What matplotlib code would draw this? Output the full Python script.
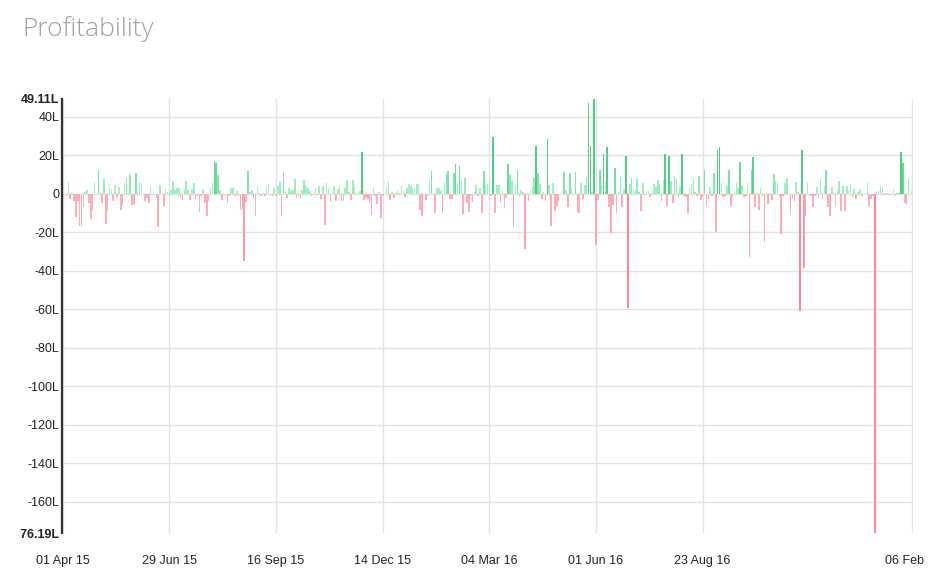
import numpy as np
import matplotlib.pyplot as plt
from matplotlib.transforms import Bbox, ScaledTranslation
from matplotlib.colors import to_rgb

# daily P&L in lakhs (one bar per trading day)
pnl_apr_jun15 = [-2, 0, -1, 6, -3, 0.5, -4, -12, -4, -17, -17, -7, 1, 2, -5, -13, -9, 6, 0, 12,
                 0.5, -5, 7.5, -16, -8.5, 3, 2.5, -4, 4.5, -2, 3.5, -8.5, -6, 5.5, 8, 0.5, 9.5, -6,
                 -5.5, 10.5, -1.5, 5.5, 5.5, 0, -4, -2.5, -5, 4, 0, 0.5, -2.5, -17.5, 4.5, 0, -6.5,
                 3, 1, -1, 2, 6.5, 2, 3, 3, -2.5, -3.5, 2.5, 6.5, 2, -3.5, 2.5, 5.5, -3.5, -1.5,
                 -9.5, -1, 2.5, -5]
pnl_jul_sep15 = [-11.5, -4, 3, 5.5, 17, 15.7, 9.5, 2, -3.5, 0.5, -0.5, -5, -1, 3, 3, -1, 1.5, -1,
                 -8.5, -8, -35, -4.5, 11.5, 1, 2, -2.5, -11.5, 4, 0.5, -1.5, 0.5, -1.5, 3.5, 5, -1,
                 -1.5, 3, -1.5, 4, 6, -11.5, 11, 1.5, -2.5, 3, 2, 2, 7.5, -2.5, -2, -3, 2, 7, 4, 3,
                 1.5, -1, -0.5, 3, -0.5, 4, -3, 4, -16.5, 5.5, 3, -4.5, 0, 4, -4, 2.5, 4, -4, -4,
                 3, 7]
pnl_nov15_feb16 = [1, -3.5, 7, 3.5, 0, 0.5, 1.5, 21.5, -3.5, -2.5, -3, -5, -11, 3, -1, -5.5, 1,
                   -12.5, -1, 0, 3.5, 6.5, -3.5, 1, -2.5, 0.5, 2, 0.5, 4, 1.5, -2, 3, 5, 4, 3, 3,
                   5, 5, -8.5, -11.5, 0, -3.5, -1, 7, 11.5, 0, -10, 3, 3, 1.5, -10, 5.5, 10, 11.5,
                   -3, -3, 10.5, 15.5, 5.5, 14.5, 7, -10.5, 8, -5, -9.5, -1, -4.5, 1, 4.5, -1, 3,
                   -10, 11.5, 4.5, 5, 7]
pnl_mar_jun16 = [-1.5, 29.5, -10, 4.5, 4.5, -5, 2, -7.5, -2.5, 15.5, 9.5, 6.5, -17.5, 4, 12.5, -1,
                 2, 1, -29, 0.5, -4, 1.5, 3.5, 8, 24.5, 10.5, 5, -3, 1, -4, 28.5, 4.5, -17, 5.5,
                 -9, -6.5, -4, 0, 0, 11, 2, -7, 10.5, 3, 0, 11, -9.5, -10, 5.5, -3, 4.5, 8.5, 47,
                 24.5, 1, 49.11, -26.5, -3.5, 12.5, 4.5, 20.5, 6, 24, -7, -20.5, -6, 13.5, -10, 1,
                 8.5, -7, 2.5, 19.5, -59.5, 5, 8]
pnl_jun_oct16 = [2, 2, 7.5, 1, -9, 5.5, -0.5, 1.5, 1.5, -2, 0.5, 5, 3.5, 7, 5, -4, 7, 20.5, -6.5,
                 19.5, 6.5, -5, 9, 7.5, -2, 3.5, 20.5, -1.5, -2, -10, 3, 5, 7.5, 1, -1, 9, -3.5,
                 -2, 12.5, -6.5, -3, 3.5, -1, 10.5, -20, 22.5, 24, 5.5, -2, -1.5, 4, 12.5, -6.5,
                 -1.5, 2, 5.5, 3, 16.5, 4, -2, -1.5, 5.5, -33, 12, 19, -7, 0.5, -8.5, 3, -1, -25,
                 0.5, -5.5, 0.5, -3.5, 10]
pnl_oct16_feb17 = [6.5, 6, -2, -21, -1, 5.5, 8, 0, -10.5, -3, -4, 6, 1, -61, 22.5, -38.5, -11.5,
                   5.5, 0, -1.5, -7, -1.5, 3.5, -2.5, 7.5, -3, 4, 12.5, -7, -11.5, 3.5, 0.5, -6.5,
                   2, 6.5, -9, 4, -9, 4, 1.5, 5, -2, 2.5, -3, 1, 2.5, -1.5, 0, 0, 5.5, -6.5, -3,
                   -1, -176.19, 1.5, 1.5, 4, 3.5, -0.5, 0.5, 0.5, -0.5, 0, 2.5, -1.5, 0.5, 0.5,
                   21.5, 16, -5, -6, 7.5, 0, 1.5]

date_labels = ["01 Apr 15", "29 Jun 15", "16 Sep 15", "14 Dec 15", "04 Mar 16", "01 Jun 16",
               "23 Aug 16", "06 Feb"]
date_idx = [0, 57, 114, 171, 228, 285, 342, 454]
y_min, y_max = -176.19, 49.11
y_grid = [40, 20, 0, -20, -40, -60, -80, -100, -120, -140, -160]

pnl = np.array(pnl_apr_jun15 + pnl_jul_sep15 + pnl_nov15_feb16 + pnl_mar_jun16
               + pnl_jun_oct16 + pnl_oct16_feb17)
n = len(pnl)


def blend(c1, c2, t):
    a, b = np.array(to_rgb(c1)), np.array(to_rgb(c2))
    return tuple(float(x) for x in a + (b - a) * t)


colors = []
for v in pnl:
    if v >= 0:
        colors.append(blend("#9ff0c2", "#4fcf85", float(np.clip((v - 6) / 14, 0, 1))))
    else:
        colors.append(blend("#ffadb8", "#ff8799", float(np.clip((-v - 15) / 45, 0, 1))))

fig = plt.figure(figsize=(9.44, 5.79), dpi=100)
ax = fig.add_axes([62 / 944, 46 / 579, 851 / 944, 434 / 579])

ax.bar(np.arange(n), pnl, width=0.85, color=colors, linewidth=0, zorder=2)

for g in y_grid:
    ax.axhline(g, color="#e2e2e2", lw=1, zorder=0)
for xi in date_idx:
    ax.axvline(xi, color="#e2e2e2", lw=1, zorder=0)

ax.set_xlim(-0.4, n - 0.6)
ax.set_ylim(y_min, y_max)

yt = [y_max] + y_grid + [y_min]
ylab = ["49.11L"] + [("%dL" % g) if g != 0 else "0" for g in y_grid] + ["-176.19L"]
ax.set_yticks(yt)
ax.set_yticklabels(ylab, family="Liberation Sans", fontsize=9, color="#222222")
ax.tick_params(axis="y", length=0, pad=2)
lbls = ax.get_yticklabels()
lbls[0].set_fontweight("bold")
lbls[-1].set_fontweight("bold")
# the container cuts off the left of the long bottom label
lbls[-1].set_clip_box(Bbox.from_extents(21, 0, 944, 579))
lbls[-1].set_clip_on(True)

ax.set_xticks(date_idx)
ax.set_xticklabels(date_labels, family="Liberation Sans", fontsize=9, color="#222222")
ax.tick_params(axis="x", length=0, pad=15.5)
last = ax.get_xticklabels()[-1]
last.set_transform(last.get_transform() + ScaledTranslation(-8 / 100, 0, fig.dpi_scale_trans))

for s in ["top", "right", "bottom"]:
    ax.spines[s].set_visible(False)
ax.spines["left"].set_color("#333333")
ax.spines["left"].set_linewidth(1.6)
ax.spines["left"].set_zorder(3)

fig.text(22 / 944, 1 - 29 / 579, "Profitability", family="Open Sans", weight="light",
         fontsize=19, color="#a0a0a0", va="center", ha="left")

fig.savefig("out.png", dpi=100)
